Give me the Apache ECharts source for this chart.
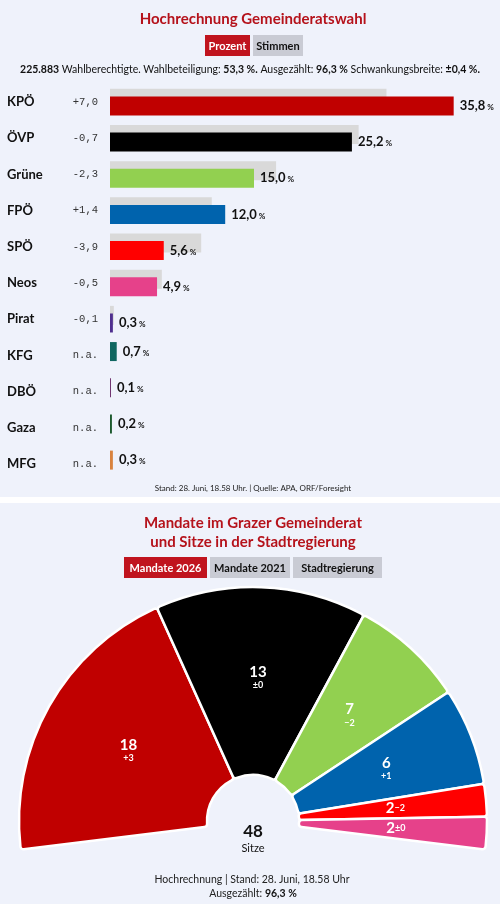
<!DOCTYPE html>
<html>
<head>
<meta charset="utf-8">
<script src="https://cdn.jsdelivr.net/npm/echarts@6/dist/echarts.min.js"></script>
<style>
  html, body { margin: 0; padding: 0; background: #fff; }
  #main { width: 500px; height: 904px; }
</style>
</head>
<body>
<div id="main"></div>
<script>
// Hochrechnung Gemeinderatswahl (Prozent)
const parties = ['KPÖ', 'ÖVP', 'Grüne', 'FPÖ', 'SPÖ', 'Neos', 'Pirat', 'KFG', 'DBÖ', 'Gaza', 'MFG'];
const percent2026 = [35.8, 25.2, 15.0, 12.0, 5.6, 4.9, 0.3, 0.7, 0.1, 0.2, 0.3];
const changeVs2021 = [7.0, -0.7, -2.3, 1.4, -3.9, -0.5, -0.1, null, null, null, null];
const partyColors = ['#c00000', '#000000', '#92d050', '#0063ad', '#ff0000', '#e6418a',
  '#4f2f8f', '#0f6660', '#6b2c6b', '#1d5a2e', '#d9833f'];

// Mandate im Gemeinderat
const seatParties = ['KPÖ', 'ÖVP', 'Grüne', 'FPÖ', 'SPÖ', 'Neos'];
const seats2026 = [18, 13, 7, 6, 2, 2];
const seatChange = ['+3', '±0', '−2', '+1', '−2', '±0'];
const seatColors = ['#c00000', '#000000', '#92d050', '#0063ad', '#ff0000', '#e6418a'];

const FONT = 'Lato, "Noto Sans", sans-serif';
const RED = '#b5121b';
const CARD = '#eff2fb';

function fmt(v) {
  return v.toFixed(1).replace('.', ',');
}
function fmtChange(c) {
  if (c === null) return 'n.a.';
  return (c > 0 ? '+' : '-') + fmt(Math.abs(c));
}

// Balken 2021 (grau) hinten, 2026 vorne; ohne Vorwert sitzt der Balken oben
const ghostData = [];
const mainData = [];
for (let i = 0; i < parties.length; i++) {
  if (changeVs2021[i] === null) {
    ghostData.push({ value: percent2026[i], itemStyle: { color: partyColors[i] }, label: { show: true } });
    mainData.push('-');
  } else {
    ghostData.push({ value: +(percent2026[i] - changeVs2021[i]).toFixed(1), itemStyle: { color: '#d9d9d9' } });
    mainData.push({ value: percent2026[i], itemStyle: { color: partyColors[i] } });
  }
}

const valueLabel = {
  position: 'right',
  distance: 6,
  formatter: p => '{v|' + fmt(p.value) + '}{p| %}',
  rich: {
    v: { fontFamily: FONT, fontWeight: 'bold', fontSize: 13, color: '#111' },
    p: { fontFamily: FONT, fontWeight: 'bold', fontSize: 8, color: '#111', padding: [3, 0, 0, 0] }
  }
};

const pieData = seatParties.map((name, i) => ({
  name: name,
  value: seats2026[i],
  itemStyle: { color: seatColors[i] }
}));

function btn(x, w, y, label, active) {
  return [
    { type: 'rect', shape: { x: x, y: y, width: w, height: 21 }, style: { fill: active ? '#c0141e' : '#c9cbd4' } },
    { type: 'text', style: { x: x + w / 2, y: y + 11, text: label, textAlign: 'center', textVerticalAlign: 'middle',
        font: 'bold 11px ' + FONT, fill: active ? '#fff' : '#111' } }
  ];
}

const graphics = [
  { type: 'rect', z: -10, shape: { x: 0, y: 0, width: 500, height: 497 }, style: { fill: CARD } },
  { type: 'rect', z: -10, shape: { x: 0, y: 503, width: 500, height: 401 }, style: { fill: CARD } },
  { type: 'text', style: { x: 253, y: 19, text: 'Hochrechnung Gemeinderatswahl', textAlign: 'center', textVerticalAlign: 'middle',
      font: 'bold 15px ' + FONT, fill: RED } },
  ...btn(205, 45, 35, 'Prozent', true),
  ...btn(253, 50, 35, 'Stimmen', false),
  { type: 'text', style: { x: 250, y: 70, textAlign: 'center', textVerticalAlign: 'middle',
      text: '{b|225.883} Wahlberechtigte. Wahlbeteiligung: {b|53,3 %.} Ausgezählt: {b|96,3 %} Schwankungsbreite: {b|±0,4 %.}',
      font: '10.5px ' + FONT, fill: '#111',
      rich: { b: { fontFamily: FONT, fontWeight: 'bold', fontSize: 10.5, fill: '#111' } } } },
  { type: 'text', style: { x: 253, y: 488, text: 'Stand: 28. Juni, 18.58 Uhr. | Quelle: APA, ORF/Foresight', textAlign: 'center',
      textVerticalAlign: 'middle', font: '8px ' + FONT, fill: '#222' } },

  { type: 'text', style: { x: 253, y: 523, text: 'Mandate im Grazer Gemeinderat', textAlign: 'center', textVerticalAlign: 'middle',
      font: 'bold 15px ' + FONT, fill: RED } },
  { type: 'text', style: { x: 253, y: 542, text: 'und Sitze in der Stadtregierung', textAlign: 'center', textVerticalAlign: 'middle',
      font: 'bold 15px ' + FONT, fill: RED } },
  ...btn(124, 83, 557, 'Mandate 2026', true),
  ...btn(210, 80, 557, 'Mandate 2021', false),
  ...btn(293, 89, 557, 'Stadtregierung', false),
  { type: 'text', z: 10, style: { x: 253, y: 832, text: '48', textAlign: 'center', textVerticalAlign: 'middle',
      font: 'bold 17px ' + FONT, fill: '#111' } },
  { type: 'text', z: 10, style: { x: 253, y: 848, text: 'Sitze', textAlign: 'center', textVerticalAlign: 'middle',
      font: '11px ' + FONT, fill: '#111' } },
  { type: 'text', style: { x: 252, y: 880, text: 'Hochrechnung | Stand: 28. Juni, 18.58 Uhr', textAlign: 'center',
      textVerticalAlign: 'middle', font: '10.5px ' + FONT, fill: '#222' } },
  { type: 'text', style: { x: 253, y: 894, text: 'Ausgezählt: {b|96,3 %}', textAlign: 'center', textVerticalAlign: 'middle',
      font: '10.5px ' + FONT, fill: '#222',
      rich: { b: { fontFamily: FONT, fontWeight: 'bold', fontSize: 10.5, fill: '#111' } } } }
];

const chart = echarts.init(document.getElementById('main'));
chart.setOption({
  animation: false,
  backgroundColor: '#fff',
  graphic: graphics,
  grid: { left: 110, right: 6, top: 84, height: 398 },
  xAxis: { type: 'value', min: 0, max: 40, show: false },
  yAxis: {
    type: 'category',
    data: parties,
    inverse: true,
    axisLine: { show: false },
    axisTick: { show: false },
    splitLine: { show: false },
    axisLabel: {
      margin: 103,
      align: 'left',
      formatter: (value, idx) => '{n|' + value + '}{c|' + fmtChange(changeVs2021[idx]) + '}',
      rich: {
        n: { width: 67, fontFamily: FONT, fontWeight: 'bold', fontSize: 13, color: '#111' },
        c: { width: 24, align: 'right', fontFamily: '"Liberation Mono", monospace', fontSize: 10.5, color: '#333' }
      }
    }
  },
  series: [
    {
      type: 'bar',
      data: ghostData,
      barWidth: 19,
      barGap: '-60%',
      label: Object.assign({ show: false }, valueLabel)
    },
    {
      type: 'bar',
      data: mainData,
      barWidth: 19,
      label: Object.assign({ show: true }, valueLabel)
    },
    {
      type: 'pie',
      center: [253, 821],
      radius: [46, 234],
      startAngle: 187,
      endAngle: -7,
      clockwise: true,
      silent: true,
      itemStyle: { borderColor: '#fff', borderWidth: 2.5, borderRadius: 3 },
      labelLine: { show: false },
      label: {
        position: 'inside',
        formatter: p => {
          const c = seatChange[p.dataIndex];
          return p.value <= 2 ? '{n|' + p.value + '}{s|' + c + '}' : '{n|' + p.value + '}\n{s|' + c + '}';
        },
        rich: {
          n: { fontFamily: FONT, fontWeight: 'bold', fontSize: 15, color: '#fff', lineHeight: 15 },
          s: { fontFamily: FONT, fontWeight: 'bold', fontSize: 9, color: '#fff', lineHeight: 12 }
        }
      },
      data: pieData
    }
  ]
});
</script>
</body>
</html>
